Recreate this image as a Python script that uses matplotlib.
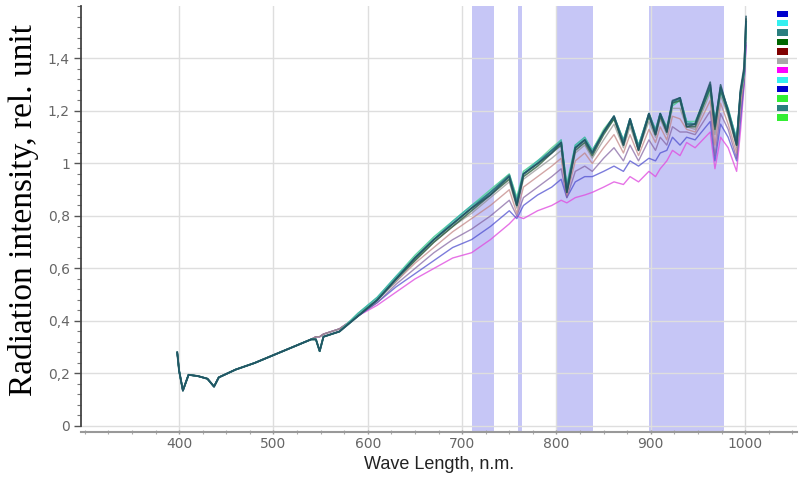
import numpy as np
import matplotlib
matplotlib.use("Agg")
import matplotlib.pyplot as plt
from matplotlib.patches import Patch
from matplotlib.ticker import MultipleLocator, FixedLocator

# wavelengths (nm): shared head of the spectrum + tail where curves split
wl_head = [398, 400, 404, 410, 420, 430, 437, 442, 460, 480, 500, 520, 540, 545, 549, 553, 570]
wl_tail = [590, 610, 630, 650, 670, 690, 710, 730, 750, 758,
           765, 780, 795, 805, 811, 820, 830, 838, 850, 861,
           871, 878, 887, 898, 905, 910, 917, 923, 931, 938,
           947, 963, 968, 974, 982, 991, 995, 999, 1001]

head_flat = [0.28, 0.21, 0.135, 0.195, 0.19, 0.18, 0.15, 0.185, 0.215, 0.24, 0.27, 0.30, 0.33, 0.34, 0.34, 0.35, 0.37]
head_dip = [0.28, 0.21, 0.135, 0.195, 0.19, 0.18, 0.15, 0.185, 0.215, 0.24, 0.27, 0.30, 0.33, 0.33, 0.285, 0.34, 0.36]

# tails for each of the 12 spectra
tail_blue1 = [0.42, 0.47, 0.54, 0.60, 0.66, 0.71, 0.75, 0.80, 0.86, 0.80, 0.87, 0.91, 0.95, 0.98, 0.87, 0.97, 0.99, 0.97, 1.02, 1.06,
              1.01, 1.07, 1.01, 1.09, 1.05, 1.10, 1.07, 1.14, 1.12, 1.12, 1.11, 1.20, 1.03, 1.19, 1.13, 1.02, 1.19, 1.32, 1.48]
tail_cyan1 = [0.43, 0.49, 0.57, 0.65, 0.72, 0.78, 0.84, 0.90, 0.96, 0.87, 0.97, 1.01, 1.05, 1.08, 0.92, 1.07, 1.09, 1.05, 1.12, 1.17,
              1.09, 1.16, 1.07, 1.18, 1.13, 1.18, 1.14, 1.22, 1.24, 1.16, 1.16, 1.28, 1.17, 1.27, 1.20, 1.10, 1.26, 1.34, 1.52]
tail_teal1 = [0.42, 0.48, 0.56, 0.64, 0.71, 0.77, 0.83, 0.89, 0.955, 0.85, 0.96, 1.00, 1.05, 1.08, 0.90, 1.06, 1.09, 1.04, 1.12, 1.18,
              1.08, 1.17, 1.06, 1.19, 1.12, 1.19, 1.13, 1.235, 1.25, 1.15, 1.15, 1.30, 1.15, 1.29, 1.20, 1.08, 1.27, 1.35, 1.54]
tail_dgreen = [0.42, 0.48, 0.56, 0.63, 0.70, 0.76, 0.82, 0.88, 0.94, 0.84, 0.95, 0.99, 1.04, 1.07, 0.89, 1.05, 1.08, 1.03, 1.11, 1.17,
               1.07, 1.16, 1.05, 1.18, 1.11, 1.18, 1.12, 1.23, 1.24, 1.14, 1.14, 1.29, 1.13, 1.28, 1.19, 1.07, 1.26, 1.36, 1.55]
tail_maroon = [0.42, 0.48, 0.55, 0.62, 0.68, 0.74, 0.79, 0.84, 0.90, 0.81, 0.91, 0.95, 0.99, 1.02, 0.88, 1.01, 1.04, 1.00, 1.06, 1.11,
               1.04, 1.11, 1.03, 1.13, 1.08, 1.14, 1.09, 1.18, 1.17, 1.13, 1.12, 1.24, 1.07, 1.23, 1.15, 1.04, 1.22, 1.33, 1.50]
tail_gray = [0.42, 0.48, 0.55, 0.63, 0.70, 0.76, 0.81, 0.87, 0.93, 0.83, 0.94, 0.98, 1.02, 1.05, 0.89, 1.04, 1.07, 1.02, 1.09, 1.15,
             1.06, 1.14, 1.05, 1.16, 1.10, 1.17, 1.11, 1.21, 1.21, 1.14, 1.13, 1.27, 1.11, 1.26, 1.18, 1.06, 1.25, 1.34, 1.52]
tail_magenta = [0.42, 0.46, 0.51, 0.56, 0.60, 0.64, 0.66, 0.71, 0.77, 0.80, 0.79, 0.82, 0.84, 0.86, 0.85, 0.87, 0.88, 0.89, 0.91, 0.93,
                0.92, 0.95, 0.93, 0.97, 0.95, 0.98, 1.01, 1.05, 1.03, 1.08, 1.06, 1.12, 0.98, 1.10, 1.06, 0.97, 1.12, 1.30, 1.45]
tail_cyan2 = [0.43, 0.49, 0.57, 0.64, 0.71, 0.78, 0.84, 0.89, 0.95, 0.86, 0.96, 1.01, 1.05, 1.09, 0.91, 1.07, 1.10, 1.05, 1.12, 1.18,
              1.09, 1.17, 1.07, 1.19, 1.13, 1.19, 1.13, 1.23, 1.25, 1.16, 1.15, 1.29, 1.16, 1.28, 1.21, 1.09, 1.27, 1.35, 1.53]
tail_blue2 = [0.42, 0.47, 0.53, 0.58, 0.63, 0.68, 0.71, 0.76, 0.82, 0.79, 0.84, 0.88, 0.91, 0.94, 0.87, 0.93, 0.95, 0.95, 0.97, 0.99,
              0.97, 1.01, 0.99, 1.02, 1.01, 1.04, 1.05, 1.10, 1.07, 1.10, 1.09, 1.16, 1.01, 1.15, 1.10, 1.01, 1.16, 1.31, 1.46]
tail_green1 = [0.43, 0.49, 0.57, 0.65, 0.72, 0.78, 0.84, 0.90, 0.96, 0.87, 0.97, 1.01, 1.06, 1.09, 0.92, 1.07, 1.10, 1.05, 1.13, 1.18,
               1.09, 1.17, 1.07, 1.19, 1.13, 1.19, 1.14, 1.23, 1.25, 1.16, 1.16, 1.29, 1.16, 1.29, 1.21, 1.09, 1.27, 1.35, 1.53]
tail_teal2 = [0.42, 0.48, 0.56, 0.64, 0.71, 0.77, 0.83, 0.88, 0.95, 0.84, 0.96, 1.00, 1.04, 1.08, 0.89, 1.06, 1.09, 1.04, 1.12, 1.18,
              1.07, 1.17, 1.05, 1.19, 1.11, 1.19, 1.12, 1.24, 1.25, 1.14, 1.15, 1.31, 1.14, 1.30, 1.20, 1.07, 1.28, 1.37, 1.56]
tail_green2 = [0.43, 0.48, 0.56, 0.64, 0.71, 0.77, 0.83, 0.89, 0.95, 0.86, 0.96, 1.00, 1.05, 1.08, 0.91, 1.06, 1.09, 1.05, 1.12, 1.17,
               1.08, 1.16, 1.06, 1.18, 1.12, 1.18, 1.13, 1.22, 1.24, 1.15, 1.15, 1.28, 1.15, 1.28, 1.20, 1.09, 1.26, 1.34, 1.52]

legend_colors = ['#0000cc', '#33f0f0', '#2a7f7f', '#006600', '#800000', '#a8a8a8',
                 '#ff00ff', '#33f0f0', '#0000cc', '#33ee33', '#2a7f7f', '#33ee33']

# absorption bands (nm)
band_start = [710, 759, 799, 898]
band_end = [734, 764, 839, 978]

wl = wl_head + wl_tail
# (head, tail, color, linewidth, alpha) in drawing order: lower curves first
series = [
    (head_flat, tail_magenta, '#e050e0', 1.0, 0.8),
    (head_flat, tail_blue2, '#5050d0', 1.0, 0.75),
    (head_flat, tail_blue1, '#8060a0', 1.0, 0.7),
    (head_flat, tail_maroon, '#c08080', 1.0, 0.7),
    (head_flat, tail_gray, '#909090', 1.0, 0.7),
    (head_dip, tail_cyan1, '#60e0e0', 1.0, 0.8),
    (head_dip, tail_green1, '#60d090', 1.0, 0.8),
    (head_dip, tail_green2, '#50c080', 1.0, 0.7),
    (head_dip, tail_cyan2, '#40b0b0', 1.0, 0.8),
    (head_dip, tail_dgreen, '#2f5f3f', 1.2, 0.8),
    (head_dip, tail_teal1, '#2a6f7f', 1.4, 0.85),
    (head_dip, tail_teal2, '#1f5060', 1.2, 0.8),
]

fig = plt.figure(figsize=(7.99, 4.84), dpi=100)
ax = fig.add_axes([0.1014, 0.1074, 0.8961, 0.8802])

for s, e in zip(band_start, band_end):
    ax.axvspan(s, e, color='#c6c6f6', lw=0, zorder=1)

for head, tail, c, lw, a in series:
    ax.plot(wl, head + tail, color=c, lw=lw, alpha=a, zorder=3)

ax.set_xlim(296, 1055)
ax.set_ylim(-0.023, 1.6)

ax.xaxis.set_major_locator(FixedLocator([400, 500, 600, 700, 800, 900, 1000]))
ax.xaxis.set_minor_locator(MultipleLocator(25))
ax.yaxis.set_major_locator(FixedLocator([0, 0.2, 0.4, 0.6, 0.8, 1.0, 1.2, 1.4]))
ax.yaxis.set_minor_locator(MultipleLocator(0.04))
ax.set_yticklabels(['0', '0,2', '0,4', '0,6', '0,8', '1', '1,2', '1,4'])

ax.grid(True, which='major', color='#dedede', lw=1.0, zorder=0)
for sp in ['top', 'right']:
    ax.spines[sp].set_visible(False)
ax.spines['left'].set_bounds(0, 1.6)
ax.spines['left'].set_color('#444444')
ax.spines['left'].set_linewidth(1.3)
ax.spines['bottom'].set_color('#999999')
ax.spines['bottom'].set_linewidth(1.5)

ax.tick_params(axis='y', which='major', length=5, width=1, color='#555555',
               labelsize=10, labelcolor='#666666', pad=3)
ax.tick_params(axis='y', which='minor', length=3, width=0.8, color='#777777')
ax.tick_params(axis='x', which='major', length=3, width=1, color='#999999', direction='inout',
               labelsize=10, labelcolor='#666666', pad=2)
ax.tick_params(axis='x', which='minor', length=3, width=0.8, color='#aaaaaa', direction='inout')

ax.set_ylabel('Radiation intensity, rel. unit', family='Liberation Serif', fontsize=24,
              color='black')
ax.yaxis.set_label_coords(-0.058, 0.522)
ax.set_xlabel('Wave Length, n.m.', family='Liberation Sans', fontsize=13, color='#222222', labelpad=4)

handles = [Patch(facecolor=c, edgecolor='none') for c in legend_colors]
ax.legend(handles, [''] * len(handles), loc='upper right', bbox_to_anchor=(0.995, 1.005),
          frameon=False, fontsize=6, handlelength=1.3, handleheight=0.8, labelspacing=0.05,
          handletextpad=0, borderpad=0.2)

fig.savefig('out.png', dpi=100)
